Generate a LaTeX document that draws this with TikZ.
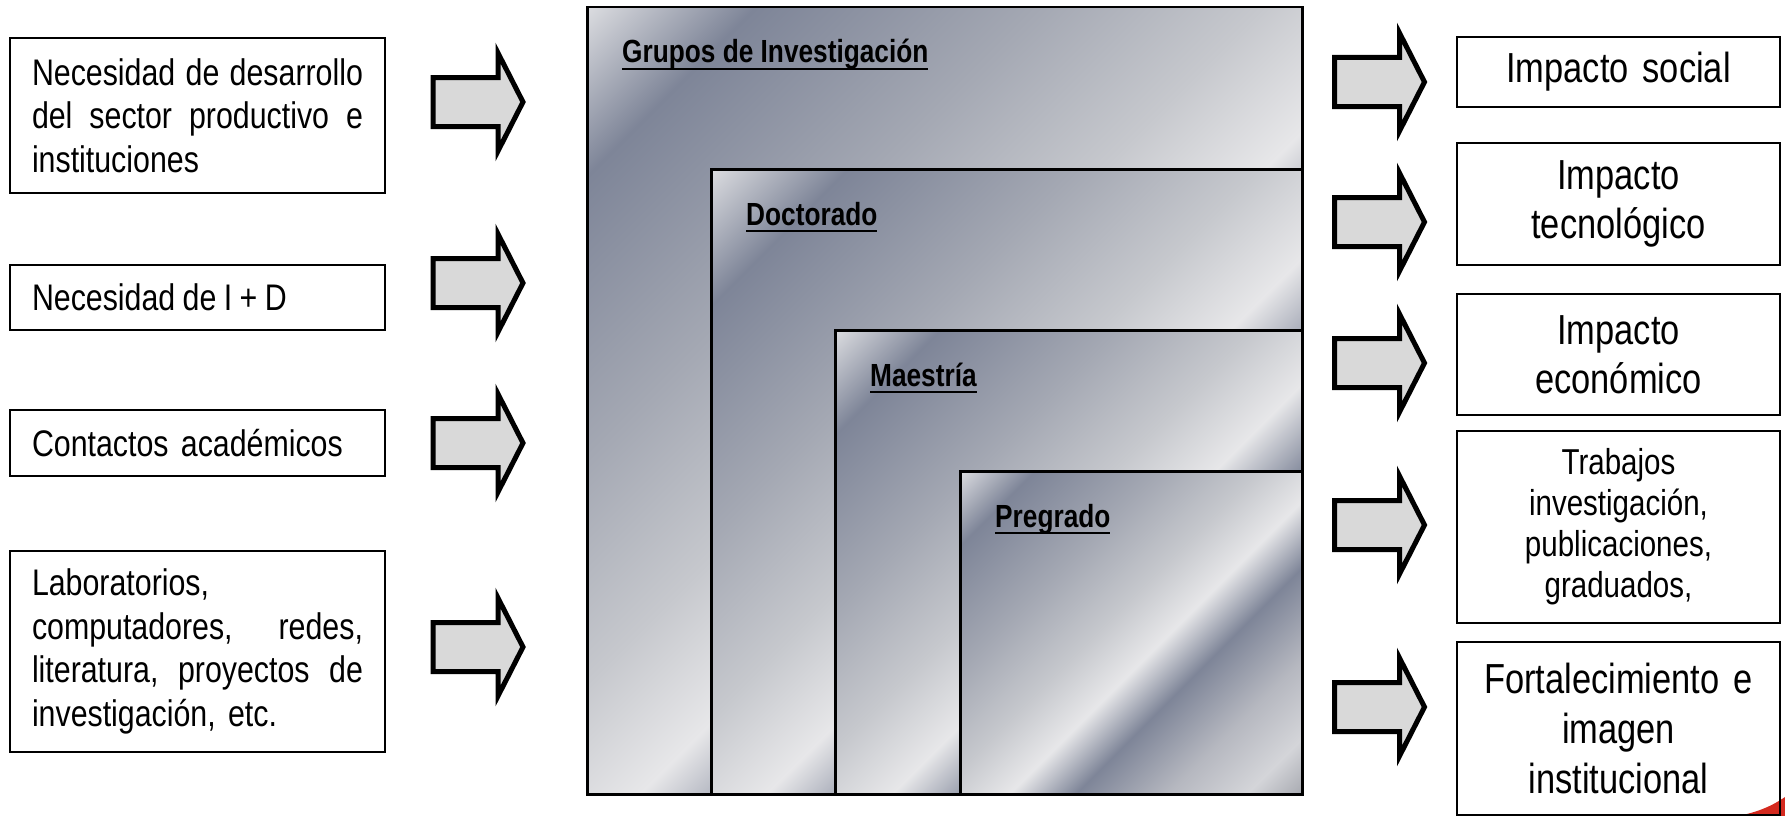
\documentclass[tikz,border=0pt]{standalone}
\usepackage{fontspec}
\setmainfont{Liberation Sans}[FakeStretch=0.82]
\definecolor{mA}{HTML}{DADBDF}
\definecolor{mD}{HTML}{7E8598}
\definecolor{mOne}{HTML}{A4A8B3}
\definecolor{mTwo}{HTML}{C6C8CD}
\definecolor{mW}{HTML}{E7E7E9}
\definecolor{mThree}{HTML}{B6B8C0}
\definecolor{mFour}{HTML}{D4D5D9}
\definecolor{mFive}{HTML}{A9ABB2}
\definecolor{arrgray}{HTML}{D9D9D9}
\definecolor{swoosh}{HTML}{D42A1F}
\pgfdeclarehorizontalshading{metal}{100bp}{color(0bp)=(mA); color(14.6bp)=(mA); color(22.4bp)=(mD); color(35.8bp)=(mOne); color(46.4bp)=(mTwo); color(54.2bp)=(mW); color(61.3bp)=(mD); color(71.2bp)=(mThree); color(79.6bp)=(mFour); color(85.3bp)=(mFive); color(100bp)=(mFive)}
\newcommand\jline[1]{\makebox[331pt][l]{#1}}
\newcommand\ulbl[1]{\setbox0=\hbox{#1}\rlap{\rule[-7.2pt]{\wd0}{2.3pt}}\box0}
\begin{document}
\begin{tikzpicture}[x=1pt,y=-1pt,
  inbox/.style={draw, line width=2pt, minimum width=375pt, text width=331pt, inner xsep=22pt, inner ysep=0pt, align=left, font=\fontsize{37}{43.5}\selectfont},
  outbox/.style={draw, line width=2.5pt, minimum width=323pt, text width=300pt, inner xsep=11.5pt, inner ysep=0pt, align=center, font=\fontsize{42}{49}\selectfont},
  lvl/.style={draw=black, line width=2.5pt, shade, shading=metal, shading angle=-45, anchor=north west, inner sep=0pt},
  lbl/.style={font=\bfseries\fontsize{32}{38}\selectfont, inner sep=0pt, anchor=base west},
  blockarr/.pic={\draw[line width=5pt, fill=arrgray, line join=miter] (-90,-24.5) -- (-25,-24.5) -- (-25,-49) -- (0,0) -- (-25,49) -- (-25,24.5) -- (-90,24.5) -- cycle;}
]
\useasboundingbox (0,0) rectangle (1785,816);
\fill[white] (0,0) rectangle (1785,816);

% left boxes
\node[inbox, minimum height=155pt] (in1) at (197.5,115.5) {\jline{Necesidad\hfill de\hfill desarrollo}\\\jline{del\hfill sector\hfill productivo\hfill e}\\instituciones};
\node[inbox, minimum height=65pt] (in2) at (197.5,297.5) {\spaceskip=0.88\fontdimen2\font Necesidad de I + D};
\node[inbox, minimum height=66pt] (in3) at (197.5,443) {Contactos académicos};
\node[inbox, minimum height=201pt] (in4) at (197.5,651.5) {Laboratorios,\\\jline{computadores,\hfill redes,}\\\jline{literatura,\hfill proyectos\hfill de}\\investigación, etc.};

% left arrows
\pic (la1) at (523,102) {blockarr};
\pic (la2) at (523,283) {blockarr};
\pic (la3) at (523,443) {blockarr};
\pic (la4) at (523,647) {blockarr};

% nested levels
\node[lvl, minimum width=715pt, minimum height=787pt] (G) at (586,6) {};
\node[lvl, minimum width=591pt, minimum height=625pt] (D) at (710,168) {};
\node[lvl, minimum width=467pt, minimum height=464pt] (M) at (834,329) {};
\node[lvl, minimum width=342pt, minimum height=323pt] (P) at (959,470) {};
\node[lbl] (lG) at (622,63) {\ulbl{Grupos de Investigación}};
\node[lbl] (lD) at (746,225) {\ulbl{Doctorado}};
\node[lbl] (lM) at (870,386) {\ulbl{Maestría}};
\node[lbl] (lP) at (995,527) {\ulbl{Pregrado}};

% right arrows
\pic (ra1) at (1424.5,82) {blockarr};
\pic (ra2) at (1424.5,222) {blockarr};
\pic (ra3) at (1424.5,363) {blockarr};
\pic (ra4) at (1424.5,525) {blockarr};
\pic (ra5) at (1424.5,707) {blockarr};

% red corner swoosh
\fill[swoosh] (1738,816) .. controls (1758,812) and (1772,806) .. (1785,797) -- (1785,816) -- cycle;

% right boxes
\node[outbox, minimum height=70pt] (out1) at (1618.5,72) {Impacto social};
\node[outbox, minimum height=122pt] (out2) at (1618.5,204) {Impacto\\tecnológico};
\node[outbox, minimum height=121pt] (out3) at (1618.5,354.5) {Impacto\\económico};
\node[outbox, minimum height=192pt, font=\fontsize{36}{41}\selectfont] (out4) at (1618.5,527) {Trabajos\\investigación,\\publicaciones,\\graduados,};
\node[outbox, minimum height=173pt, font=\fontsize{42}{50}\selectfont] (out5) at (1618.5,728.5) {Fortalecimiento e\\imagen\\institucional};
\end{tikzpicture}
\end{document}
